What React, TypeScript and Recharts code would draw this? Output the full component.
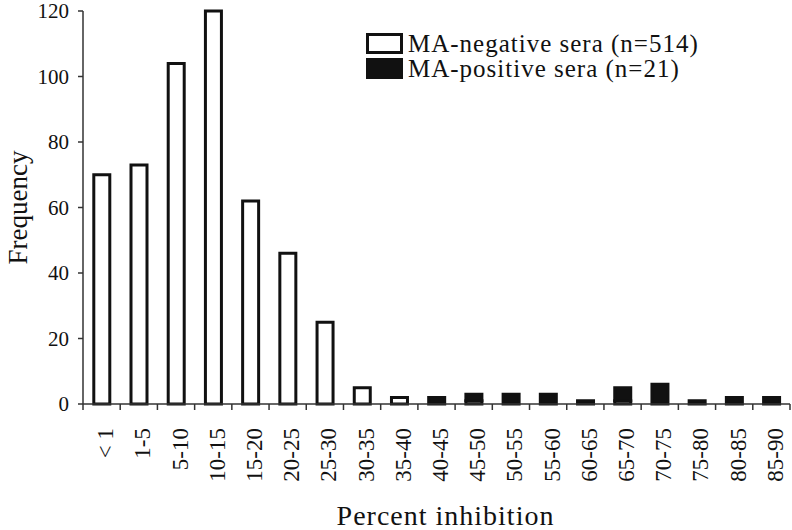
import { BarChart, Bar, XAxis, YAxis, Label } from "recharts";

const categories = ["< 1", "1-5", "5-10", "10-15", "15-20", "20-25", "25-30", "30-35", "35-40", "40-45", "45-50", "50-55", "55-60", "60-65", "65-70", "70-75", "75-80", "80-85", "85-90"];
const negativeSera = [70, 73, 104, 120, 62, 46, 25, 5, 2, 0, 1, 0, 0, 0, 1, 0, 0, 0, 0];
const positiveSera = [0, 0, 0, 0, 0, 0, 0, 0, 0, 2, 2, 3, 3, 1, 4, 6, 1, 2, 2];
const yTicks = [0, 20, 40, 60, 80, 100, 120];
const legendLabels = ["MA-negative sera (n=514)", "MA-positive sera (n=21)"];

const chartData = categories.map((range, i) => ({
    range,
    negative: negativeSera[i],
    positive: positiveSera[i],
}));

const FONT = "Liberation Serif, Times New Roman, serif";
const WIDTH = 792;
const HEIGHT = 530;
const Y_AXIS_W = 83;
const RIGHT = 2;
const BAND = (WIDTH - Y_AXIS_W - RIGHT) / categories.length;
const TICK_SIZE = 6;
const TICK_MARGIN = 2;

const CategoryTick = (props: any) => {
    const { x, y, payload, index } = props;
    const axisY = y - TICK_SIZE - TICK_MARGIN;
    const left = x - BAND / 2;
    const right = x + BAND / 2;
    return (
        <g>
            <line x1={left} y1={axisY} x2={left} y2={axisY + TICK_SIZE} stroke="#333" strokeWidth={1.5} />
            {index === categories.length - 1 && (
                <line x1={right} y1={axisY} x2={right} y2={axisY + TICK_SIZE} stroke="#333" strokeWidth={1.5} />
            )}
            <text
                x={x + 4}
                y={y + 16}
                transform={`rotate(-90, ${x + 4}, ${y + 16})`}
                textAnchor="end"
                dominantBaseline="central"
                style={{ fontFamily: FONT, fontSize: 23, fill: "#111" }}
            >
                {payload.value}
            </text>
        </g>
    );
};

const LegendBox = () => (
    <div style={{ position: "absolute", left: 366, top: 31, fontFamily: FONT, fontSize: 25, color: "#111", lineHeight: "25px", letterSpacing: 1 }}>
        {legendLabels.map((label, i) => (
            <div key={label} style={{ display: "flex", alignItems: "center", height: 25 }}>
                <span style={{ display: "inline-block", width: 31, height: 15, border: "3px solid #111", background: i === 0 ? "#fff" : "#111", marginRight: 5 }} />
                <span>{label}</span>
            </div>
        ))}
    </div>
);

export default function App() {
    return (
        <div style={{ position: "absolute", left: 0, top: 0, width: WIDTH, height: HEIGHT, background: "#fff" }}>
            <BarChart
                width={WIDTH}
                height={HEIGHT}
                data={chartData}
                margin={{ top: 11, right: RIGHT, left: 0, bottom: 0 }}
                barCategoryGap="29%"
            >
                <XAxis
                    dataKey="range"
                    interval={0}
                    height={126}
                    tickLine={false}
                    tickSize={TICK_SIZE}
                    tickMargin={TICK_MARGIN}
                    axisLine={{ stroke: "#333", strokeWidth: 1.5 }}
                    tick={<CategoryTick />}
                >
                    <Label
                        value="Percent inhibition"
                        position="insideBottom"
                        offset={5}
                        dx={9}
                        style={{ fontFamily: FONT, fontSize: 28, fill: "#111", letterSpacing: 1 }}
                    />
                </XAxis>
                <YAxis
                    width={Y_AXIS_W}
                    domain={[0, 120]}
                    ticks={yTicks}
                    interval={0}
                    tickSize={5}
                    tickMargin={9}
                    axisLine={{ stroke: "#333", strokeWidth: 1.5 }}
                    tickLine={{ stroke: "#333", strokeWidth: 1.5 }}
                    tick={{ fontFamily: FONT, fontSize: 21, fill: "#111" }}
                >
                    <Label
                        value="Frequency"
                        angle={-90}
                        position="insideLeft"
                        offset={17}
                        style={{ fontFamily: FONT, fontSize: 27, fill: "#111", textAnchor: "middle" }}
                    />
                </YAxis>
                <Bar dataKey="negative" stackId="a" fill="#fff" stroke="#111" strokeWidth={3} isAnimationActive={false} />
                <Bar dataKey="positive" stackId="a" fill="#111" stroke="#111" strokeWidth={3} isAnimationActive={false} />
            </BarChart>
            <LegendBox />
        </div>
    );
}
